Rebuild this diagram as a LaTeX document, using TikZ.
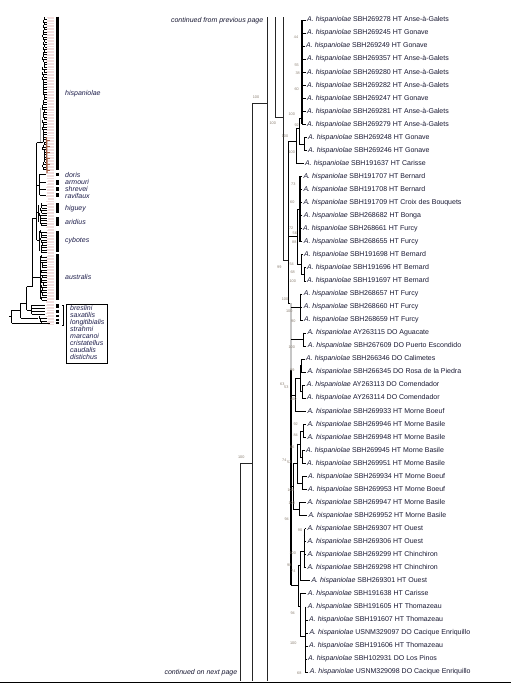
\documentclass[tikz,border=0pt]{standalone}
\usepackage{fontspec}
\setmainfont{Liberation Sans}
\definecolor{tipc}{rgb}{0.1,0.1,0.2}
\definecolor{bsc}{rgb}{0.55,0.5,0.45}
\definecolor{thc}{rgb}{0.12,0.12,0.3}
\definecolor{pinkc}{rgb}{0.95,0.87,0.87}
\definecolor{brownc}{rgb}{0.62,0.36,0.26}
\tikzset{
  br/.style={line width=0.55pt, line cap=rect},
  thk/.style={line width=1.3pt},
  longl/.style={line width=0.7pt, draw=black!85},
  tb/.style={line width=0.5pt},
  tip/.style={anchor=west, inner sep=0pt, font=\fontsize{7}{8}\selectfont, text=tipc},
  bs/.style={inner sep=0pt, font=\fontsize{3.8}{4}\selectfont, text=bsc},
  thl/.style={anchor=west, inner sep=0pt, font=\fontsize{7}{8}\selectfont\itshape, text=thc},
  graybar/.style={line width=0.35pt, double=gray!45, double distance=1.6pt},
}
\newcommand\tipl[5]{%
  \node[tip] (#1) at (#4+1.5,#3) {\textit{A. hispaniolae} #5};
  \draw[br, shorten >=1.5pt] (#2,#3) -- (#1.west);
}
\newcommand\scrib[3]{%
  \pgfmathsetmacro\nn{int((#2-#1)/2.5)}%
  \foreach \k in {0,...,\nn}{%
    \pgfmathsetmacro\yk{#1+\k*2.5}%
    \pgfmathsetmacro\xk{#3+2.5*rnd}%
    \draw[line width=0.75pt] (\xk,\yk) -- (\xk,\yk+2.5);
    \draw[line width=0.35pt] (\xk,\yk+2.5) -- (47,\yk+2.5);
  }%
}
\begin{document}
\begin{tikzpicture}[x=1pt,y=-1pt]
\useasboundingbox (0,0) rectangle (511,683);
\fill[white] (0,0) rectangle (511,683);

% ---------------- thumbnail ----------------
\pgfmathsetseed{11}
\foreach \k in {0,...,200}{
  \pgfmathsetmacro\yk{17+\k*1.535}
  \pgfmathsetmacro\xk{46+2*rnd}
  \draw[line width=0.35pt, pinkc] (\xk,\yk) -- (54,\yk);
}
\scrib{17}{168}{42.3}
\draw[line width=1.4pt, brownc] (46.5,137) -- (47,173);
\foreach \yk in {140,146,152,158,164,170}{\draw[line width=0.4pt, brownc] (46.5,\yk) -- (50,\yk);}
\draw[line width=1.2pt, gray!70] (40.5,108) -- (40.5,142.7);
\draw[tb] (9,316.5) -- (11.7,316.5);
\draw[tb] (11.7,310) -- (11.7,323);
\draw[tb] (11.7,310) -- (20.7,310);
\draw[tb] (11.7,323) -- (50,323);
\draw[tb] (20.7,303.3) -- (20.7,318);
\draw[tb] (20.7,303.3) -- (26.7,303.3);
\draw[tb] (20.7,318) -- (38,318);
\scrib{316}{321}{39}
\draw[tb] (26.7,286.7) -- (26.7,310);
\draw[tb] (26.7,286.7) -- (32.7,286.7);
\draw[tb] (26.7,310) -- (31.7,310);
\draw[tb] (31.7,305) -- (31.7,314);
\foreach \yk in {305,308,311,314}{\draw[tb] (31.7,\yk) -- (45,\yk);}
\draw[tb] (32.7,218) -- (32.7,286.7);
\draw[tb] (32.7,218) -- (36.7,218);
\draw[tb] (32.7,277) -- (40,277);
\draw[tb] (40,256) -- (40,299);
\scrib{255}{299}{40.5}
\draw[tb] (36.7,142.7) -- (36.7,240);
\draw[tb] (36.7,142.7) -- (43,142.7);
\draw[tb] (36.7,185) -- (39.5,185);
\draw[tb] (39.5,174) -- (39.5,195);
\foreach \yk in {174,182,189,195}{\draw[line width=0.7pt] (39.5,\yk) -- (46,\yk);}
\draw[tb] (36.7,212) -- (38.5,212);
\draw[tb] (38.5,205) -- (38.5,222);
\scrib{203}{224}{39.5}
\draw[tb] (36.7,240) -- (39,240);
\draw[tb] (39,231) -- (39,251);
\scrib{230}{250}{40}
% clade bars
\foreach \a/\b in {16.7/170, 172.5/176, 180/184.5, 187/191, 193/197, 203/213, 217/226, 230.7/251.7, 254/300, 304/308, 309.5/313, 314.5/317, 318.5/320.5, 321.5/324}{
  \draw[line width=2.6pt] (57.3,\a) -- (57.3,\b);
}
\draw[tb] (62.3,305) -- (63.5,305) -- (63.5,325) -- (62.3,325);
\draw[line width=0.6pt] (66.7,304) rectangle (107.3,363.3);
\node[thl] (lhis) at (65,94) {hispaniolae};
\node[thl] (ldor) at (65,174.5) {doris};
\node[thl] (larm) at (65,182) {armouri};
\node[thl] (lshr) at (65,189) {shrevei};
\node[thl] (lrav) at (65,196) {ravifaux};
\node[thl] (lhig) at (65,208.3) {higuey};
\node[thl] (lari) at (65,221.7) {aridius};
\node[thl] (lcyb) at (65,240.7) {cybotes};
\node[thl] (laus) at (65,277.3) {australis};
\node[thl] (lbre) at (70,308.3) {breslini};
\node[thl] (lsax) at (70,315.3) {saxatilis};
\node[thl] (llon) at (70,322.3) {longitibialis};
\node[thl] (lstr) at (70,329.3) {strahmi};
\node[thl] (lmar) at (70,336.3) {marcanoi};
\node[thl] (lcri) at (70,343.3) {cristatellus};
\node[thl] (lcau) at (70,350.3) {caudalis};
\node[thl] (ldis) at (70,357.3) {distichus};

% ---------------- main tree ----------------
\node[anchor=east, inner sep=0pt, font=\fontsize{7}{8}\selectfont\itshape, text=tipc] (cfp) at (263.5,20.5) {continued from previous page};
\node[anchor=east, inner sep=0pt, font=\fontsize{7}{8}\selectfont\itshape, text=tipc] (cnp) at (237.5,672.5) {continued on next page};

\draw[longl] (283.7,17) -- (283.7,260) -- (288,260);
\draw[longl] (275.7,17) -- (275.7,117) -- (283.7,117);
\draw[longl] (267,17) -- (267,681);
\draw[longl] (252,103) -- (267,103);
\draw[longl] (252,103) -- (252,681);
\draw[longl] (240,463) -- (252,463);
\draw[longl] (240,463) -- (240,681);

% group 1
\draw[thk] (302,20) -- (302,124.32);
\draw[br] (299.7,118) -- (302,118);
\draw[br] (304.5,137.36) -- (304.5,150.4);
\draw[br] (299.7,143.9) -- (304.5,143.9);
\draw[br] (299.7,118) -- (299.7,143.9);
\draw[br] (296.3,128) -- (299.7,128);
\draw[br] (296.3,128) -- (296.3,163.44);
\draw[br] (288,141.7) -- (296.3,141.7);
\draw[br] (288,141.7) -- (288,303);
% group 2
\draw[thk] (300,176.48) -- (300,241.68);
\draw[br] (304.3,267.76) -- (304.3,280.8);
\draw[br] (301.7,274.3) -- (304.3,274.3);
\draw[br] (301.7,254.72) -- (301.7,274.3);
\draw[br] (297,209) -- (300,209);
\draw[br] (297,264.5) -- (301.7,264.5);
\draw[br] (297,209) -- (297,264.5);
\draw[br] (288,236) -- (297,236);
\draw[br] (300.3,293.84) -- (300.3,319.92);
% trunk
\draw[br] (288,303) -- (291,303);
\draw[graybar] (291,303) -- (291,371);
\draw[thk] (291,370) -- (291,585);
\draw[br] (291,306.88) -- (300.3,306.88);
\draw[br] (303.3,332.96) -- (303.3,346);
\draw[br] (291,339.5) -- (303.3,339.5);
\draw[br] (301.7,359.04) -- (301.7,372.08);
\draw[br] (302.7,385.12) -- (302.7,398.16);
\draw[br] (300,365.6) -- (301.7,365.6);
\draw[br] (300,391.6) -- (302.7,391.6);
\draw[br] (300,365.6) -- (300,391.6);
\draw[br] (295,378.6) -- (300,378.6);
\draw[br] (295,378.6) -- (295,411.2);
\draw[br] (291,395) -- (295,395);
\draw[br] (303.3,424.24) -- (303.3,437.28);
\draw[br] (300,430.8) -- (303.3,430.8);
\draw[br] (302.7,450.32) -- (302.7,463.36);
\draw[br] (300,456.8) -- (302.7,456.8);
\draw[br] (300,430.8) -- (300,456.8);
\draw[br] (297.7,443.8) -- (300,443.8);
\draw[br] (302.7,476.4) -- (302.7,489.44);
\draw[br] (297.7,483) -- (302.7,483);
\draw[br] (297.7,443.8) -- (297.7,483);
\draw[br] (293.5,463.4) -- (297.7,463.4);
\draw[br] (299.3,502.48) -- (299.3,515.52);
\draw[br] (293.5,509) -- (299.3,509);
\draw[br] (293.5,463.4) -- (293.5,509);
\draw[br] (291,486) -- (293.5,486);
\draw[thk] (304.8,528.56) -- (304.8,541.6);
\draw[br] (303.8,535.1) -- (304.8,535.1);
\draw[br] (303.8,535.1) -- (303.8,567.68);
\draw[br] (300,551) -- (303.8,551);
\draw[br] (300,551) -- (300,580.72);
\draw[br] (298.3,565) -- (300,565);
\draw[br] (300,593.76) -- (300,636.7);
\draw[br] (305.3,606.8) -- (305.3,672);
\draw[br] (300,636.7) -- (305.3,636.7);
\draw[br] (298.3,606) -- (300,606);
\draw[thk] (298.3,565) -- (298.3,606);
\draw[br] (291,585) -- (298.3,585);

% tips
\tipl{t1}{302}{20.00}{305.5}{SBH269278 HT Anse-à-Galets}
\tipl{t2}{302}{33.04}{305.5}{SBH269245 HT Gonave}
\tipl{t3}{302}{46.08}{304.5}{SBH269249 HT Gonave}
\tipl{t4}{302}{59.12}{305.5}{SBH269357 HT Anse-à-Galets}
\tipl{t5}{302}{72.16}{305.5}{SBH269280 HT Anse-à-Galets}
\tipl{t6}{302}{85.20}{305.5}{SBH269282 HT Anse-à-Galets}
\tipl{t7}{302}{98.24}{305.5}{SBH269247 HT Gonave}
\tipl{t8}{302}{111.28}{305.5}{SBH269281 HT Anse-à-Galets}
\tipl{t9}{302}{124.32}{305.5}{SBH269279 HT Anse-à-Galets}
\tipl{t10}{304.5}{137.36}{306.5}{SBH269248 HT Gonave}
\tipl{t11}{304.5}{150.40}{306.5}{SBH269246 HT Gonave}
\tipl{t12}{296.3}{163.44}{303.5}{SBH191637 HT Carisse}
\tipl{t13}{300}{176.48}{301.8}{SBH191707 HT Bernard}
\tipl{t14}{300}{189.52}{301.8}{SBH191708 HT Bernard}
\tipl{t15}{300}{202.56}{301.8}{SBH191709 HT Croix des Bouquets}
\tipl{t16}{300}{215.60}{302.2}{SBH268682 HT Bonga}
\tipl{t17}{300}{228.64}{301.5}{SBH268661 HT Furcy}
\tipl{t18}{300}{241.68}{302.2}{SBH268655 HT Furcy}
\tipl{t19}{301.7}{254.72}{302.5}{SBH191698 HT Bernard}
\tipl{t20}{304.3}{267.76}{305.5}{SBH191696 HT Bernard}
\tipl{t21}{304.3}{280.80}{305.5}{SBH191697 HT Bernard}
\tipl{t22}{300.3}{293.84}{302.2}{SBH268657 HT Furcy}
\tipl{t23}{300.3}{306.88}{302.2}{SBH268660 HT Furcy}
\tipl{t24}{300.3}{319.92}{302.5}{SBH268659 HT Furcy}
\tipl{t25}{303.3}{332.96}{305.8}{AY263115 DO Aguacate}
\tipl{t26}{303.3}{346.00}{306.2}{SBH267609 DO Puerto Escondido}
\tipl{t27}{301.7}{359.04}{304.5}{SBH266346 DO Calimetes}
\tipl{t28}{301.7}{372.08}{305.8}{SBH266345 DO Rosa de la Piedra}
\tipl{t29}{302.7}{385.12}{305.2}{AY263113 DO Comendador}
\tipl{t30}{302.7}{398.16}{305.5}{AY263114 DO Comendador}
\tipl{t31}{295}{411.20}{305.8}{SBH269933 HT Morne Boeuf}
\tipl{t32}{303.3}{424.24}{305.8}{SBH269946 HT Morne Basile}
\tipl{t33}{303.3}{437.28}{305.8}{SBH269948 HT Morne Basile}
\tipl{t34}{302.7}{450.32}{304.5}{SBH269945 HT Morne Basile}
\tipl{t35}{302.7}{463.36}{305.5}{SBH269951 HT Morne Basile}
\tipl{t36}{302.7}{476.40}{306.5}{SBH269934 HT Morne Boeuf}
\tipl{t37}{302.7}{489.44}{306.5}{SBH269953 HT Morne Boeuf}
\tipl{t38}{299.3}{502.48}{305.8}{SBH269947 HT Morne Basile}
\tipl{t39}{299.3}{515.52}{306.8}{SBH269952 HT Morne Basile}
\tipl{t40}{304.8}{528.56}{305.8}{SBH269307 HT Ouest}
\tipl{t41}{304.8}{541.60}{305.8}{SBH269306 HT Ouest}
\tipl{t42}{303.8}{554.64}{305.8}{SBH269299 HT Chinchiron}
\tipl{t43}{303.8}{567.68}{305.8}{SBH269298 HT Chinchiron}
\tipl{t44}{300}{580.72}{309.8}{SBH269301 HT Ouest}
\tipl{t45}{300}{593.76}{306.2}{SBH191638 HT Carisse}
\tipl{t46}{305.3}{606.80}{306.2}{SBH191605 HT Thomazeau}
\tipl{t47}{305.3}{619.84}{307.5}{SBH191607 HT Thomazeau}
\tipl{t48}{305.3}{632.88}{307.8}{USNM329097 DO Cacique Enriquillo}
\tipl{t49}{305.3}{645.92}{307.5}{SBH191606 HT Thomazeau}
\tipl{t50}{305.3}{658.96}{306.5}{SBH102931 DO Los Pinos}
\tipl{t51}{305.3}{672.00}{308.2}{USNM329098 DO Cacique Enriquillo}

% bootstrap values
\node[bs] (b1) at (296,37.3) {44};
\node[bs] (b2) at (296.7,65) {55};
\node[bs] (b3) at (297.7,72.7) {38};
\node[bs] (b4) at (296.7,89.3) {60};
\node[bs] (b5) at (291.7,114) {100};
\node[bs] (b6) at (272.7,123.3) {100};
\node[bs] (b7) at (296.7,125.3) {92};
\node[bs] (b8) at (285,136) {100};
\node[bs] (b9) at (291.7,151.7) {100};
\node[bs] (b10) at (256,97.3) {100};
\node[bs] (b11) at (293.3,184) {73};
\node[bs] (b12) at (292.3,202.3) {60};
\node[bs] (b13) at (291.2,228.5) {72};
\node[bs] (b14) at (294.8,233.2) {56};
\node[bs] (b15) at (294.3,241.7) {88};
\node[bs] (b16) at (291.7,264.3) {54};
\node[bs] (b17) at (279.3,267) {99};
\node[bs] (b18) at (292.7,272.3) {68};
\node[bs] (b19) at (292.7,280.7) {100};
\node[bs] (b20) at (285,299.3) {100};
\node[bs] (b21) at (289.3,310.7) {100};
\node[bs] (b22) at (293.3,321) {90};
\node[bs] (b23) at (291.7,346.7) {100};
\node[bs] (b24) at (292.3,370) {99};
\node[bs] (b25) at (282.3,384.3) {63};
\node[bs] (b26) at (286.3,386.9) {53};
\node[bs] (b27) at (293.3,399.3) {100};
\node[bs] (b28) at (295.7,424.3) {92};
\node[bs] (b29) at (295.7,435) {84};
\node[bs] (b30) at (292.3,446.7) {66};
\node[bs] (b31) at (284.3,460) {74};
\node[bs] (b32) at (289.3,461.9) {52};
\node[bs] (b33) at (290.7,490) {100};
\node[bs] (b34) at (291.7,503.3) {100};
\node[bs] (b35) at (286.7,519) {94};
\node[bs] (b36) at (300,530) {90};
\node[bs] (b37) at (292.7,553.3) {100};
\node[bs] (b38) at (289.3,565) {98};
\node[bs] (b39) at (293.3,570.7) {74};
\node[bs] (b40) at (292.7,613.3) {94};
\node[bs] (b41) at (293.3,643.3) {100};
\node[bs] (b42) at (299.3,673.3) {68};
\node[bs] (b43) at (241.3,456.7) {100};

\draw[line width=1.2pt] (0,682.4) -- (511,682.4);
\end{tikzpicture}
\end{document}
